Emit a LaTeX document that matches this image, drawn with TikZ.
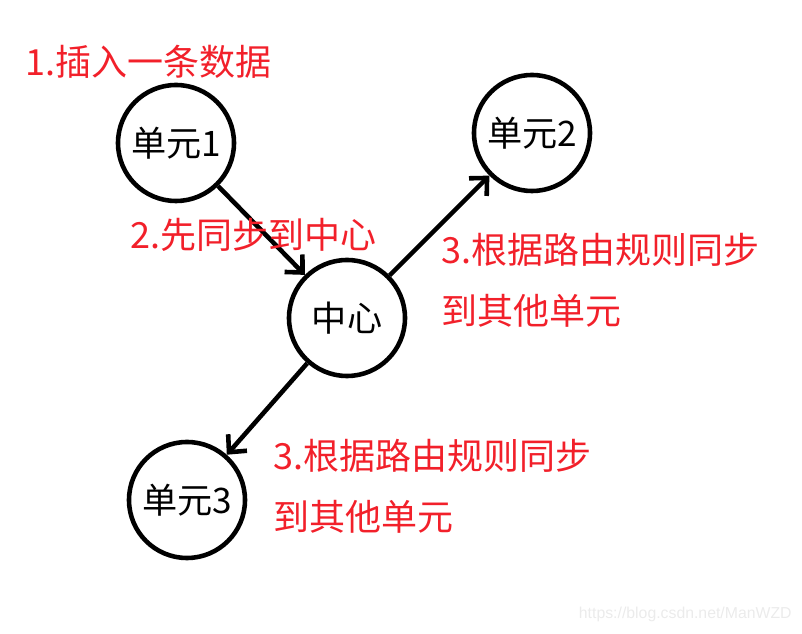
\documentclass[tikz,border=0pt]{standalone}
\usepackage{fontspec}
\usetikzlibrary{arrows.meta}
\setmainfont{Noto Sans CJK SC}
\newfontfamily\wmfont{Liberation Sans}
\definecolor{rouge}{RGB}{242,32,42}
\tikzset{
  unite/.style={circle,draw,line width=2.6pt,minimum size=2.32cm,inner sep=0pt,font=\fontsize{20}{23}\selectfont},
  note/.style={anchor=west,inner sep=0pt,text=rouge,align=left,font=\fontsize{20.5}{34.6}\selectfont},
  fleche/.style={-{Straight Barb[length=0.26cm,width=0.5cm]},line width=2.6pt}
}
\begin{document}
\begin{tikzpicture}
\useasboundingbox (0,0) rectangle (16.04,-12.68);
% unites et centre
\node [unite] (u1) at (3.52,-2.86) {单元1};
\node [unite] (u2) at (10.64,-2.66) {单元2};
\node [unite] (c) at (6.94,-6.36) {中心};
\node [unite] (u3) at (3.74,-10.0) {单元3};
% fleches
\draw [fleche] (u1) -- (c);
\draw [fleche] (c) -- (u2);
\draw [fleche] (c) -- (u3);
% etapes
\node [note] (t1) at (0.50,-1.24) {1.插入一条数据};
\node [note] (t2) at (2.60,-4.70) {2.先同步到中心};
\node [note] (t3) at (8.82,-5.61) {3.根据路由规则同步\\到其他单元};
\node [note] (t4) at (5.46,-9.73) {3.根据路由规则同步\\到其他单元};
% filigrane
\node [anchor=east,inner sep=0pt,text=black!8,font=\wmfont\fontsize{9}{11}\selectfont] (wm) at (15.84,-12.28) {https://blog.csdn.net/ManWZD};
\end{tikzpicture}
\end{document}
